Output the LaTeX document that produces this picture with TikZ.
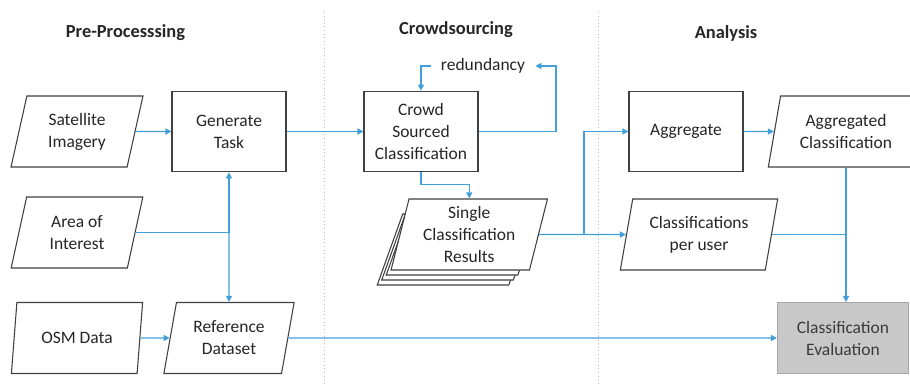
\documentclass[tikz,border=0pt]{standalone}
\usepackage{fontspec}
\setmainfont{Carlito}
\usetikzlibrary{arrows.meta,shapes.geometric}
\definecolor{flow}{HTML}{41A0DC}
\definecolor{boxline}{HTML}{404040}
\definecolor{txt}{HTML}{262626}
\definecolor{sepcol}{HTML}{BDBDBD}
\definecolor{evalfill}{HTML}{C8C8C8}
\definecolor{evalline}{HTML}{A6A6A6}
\definecolor{evaltext}{HTML}{3A3A3A}
\begin{document}
\begin{tikzpicture}[x=0.75pt,y=-0.75pt,
  nodefont/.style={font=\fontsize{13.1}{16.5}\selectfont},
  procbox/.style={draw=boxline, line width=0.8pt, fill=white, minimum width=85.5pt,
    minimum height=60.5pt, align=center, text=txt, nodefont, inner sep=2pt},
  para/.style={trapezium, trapezium left angle=76.5, trapezium right angle=103.5,
    trapezium stretches=true, draw=boxline, line width=0.8pt, fill=white,
    minimum height=53.25pt, align=center, text=txt, nodefont, inner sep=1pt},
  flowline/.style={draw=flow, line width=0.9pt},
  arr/.style={flowline, -{Triangle[length=4.5pt,width=4.5pt]}},
  coltitle/.style={font=\bfseries\fontsize{13.8}{16}\selectfont, text=txt},
  sepline/.style={draw=sepcol, line width=0.7pt, dotted}]

\useasboundingbox (0,0) rectangle (910,383);
\fill[white] (0,0) rectangle (910,383);

% column separators
\draw[sepline] (324,12) -- (324,383);
\draw[sepline] (598,12) -- (598,383);

% titles
\node[coltitle] (t1) at (125.5,33) {Pre-Processsing};
\node[coltitle] (t2) at (456,30) {Crowdsourcing};
\node[coltitle] (t3) at (726,33) {Analysis};

% pre-processing
\node[para, minimum width=99pt] (sat) at (77,131.5) {Satellite\\Imagery};
\node[procbox] (gen) at (229,131.5) {Generate\\Task};
\node[para, minimum width=99pt] (aoi) at (77,232.5) {Area of\\Interest};
\node[para, minimum width=99pt] (osm) at (77,338) {OSM Data};
\node[para, minimum width=98.25pt] (ref) at (229,338) {Reference\\Dataset};

% crowdsourcing
\node[procbox] (crowd) at (421,131.5) {Crowd\\Sourced\\Classification};
\node[text=txt, nodefont, inner xsep=7.5pt] (red) at (483,66) {redundancy};
\node[para, minimum width=117.75pt] (single3) at (455.75,249.5) {};
\node[para, minimum width=117.75pt] (single2) at (460.25,244.5) {};
\node[para, minimum width=117.75pt] (single1) at (464.75,239.5) {};
\node[para, minimum width=117.75pt] (single) at (469.25,234.5) {Single\\Classification\\Results};

% analysis
\node[procbox] (agg) at (686,131.5) {Aggregate};
\node[para, minimum width=117pt] (aggc) at (846,131.5) {Aggregated\\Classification};
\node[para, minimum width=118.5pt] (cpu) at (699,234.5) {Classifications\\per user};
\node[procbox, fill=evalfill, draw=evalline, minimum width=98.25pt, minimum height=53.25pt,
  text=evaltext] (eval) at (843,338) {Classification\\Evaluation};

% connectors
\draw[arr] (sat.east) -- (gen.west);
\coordinate (j1) at (gen.south |- aoi.east);
\draw[flowline] (aoi.east) -- (j1);
\draw[arr] (j1) -- (gen.south);
\draw[arr] (j1) -- (ref.north);
\draw[arr] (osm.east) -- (ref.west);
\draw[arr] (ref.east) -- (eval.west);
\draw[arr] (gen.east) -- (crowd.west);

\coordinate (redturn) at (556,66);
\draw[arr] (crowd.east) -| (redturn) -- (red.east);
\draw[arr] (red.west) -| (crowd.north);
\draw[arr] (crowd.south) -- ++(0,12) -| (single.north);

\coordinate (j2) at (584,234.5);
\draw[flowline] (single.east) -- (j2);
\draw[arr] (j2) -- (cpu.west);
\draw[arr] (j2) |- (agg.west);
\draw[arr] (agg.east) -- (aggc.west);
\draw[arr] (aggc.south) -- (aggc.south |- eval.north);
\coordinate (j3) at (aggc.south |- cpu.east);
\draw[flowline] (cpu.east) -- (j3);
\end{tikzpicture}
\end{document}
